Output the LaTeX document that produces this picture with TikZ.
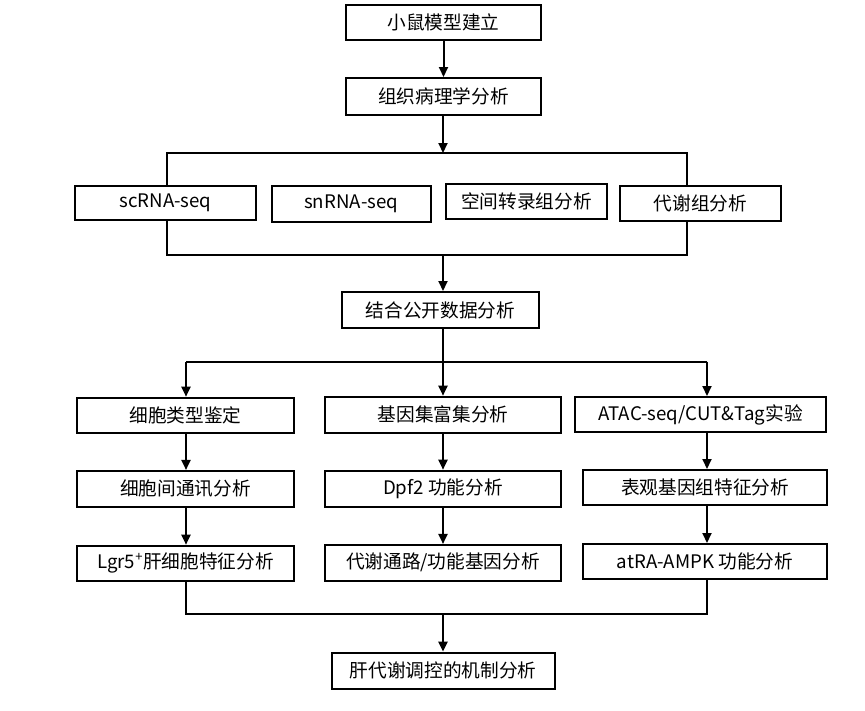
\documentclass[tikz,border=0pt]{standalone}
\usepackage{fontspec}
\setmainfont{Noto Sans CJK SC}
\usetikzlibrary{arrows.meta}
\begin{document}
\begin{tikzpicture}[x=0.75pt,y=-0.75pt,
  box/.style={draw,line width=1.5pt,inner sep=0pt,fill=white,
    font=\fontsize{14}{16}\selectfont},
  ln/.style={line width=1.5pt},
  arr/.style={line width=1.5pt,-{Triangle[length=7.5pt,width=6.75pt]}}]
\useasboundingbox (0,0) rectangle (865,711);
% top
\node[box,minimum width={195*0.75pt},minimum height={35*0.75pt}] (n1) at (443.5,22.5) {小鼠模型建立};
\node[box,minimum width={195*0.75pt},minimum height={37*0.75pt}] (n2) at (443.5,96.5) {组织病理学分析};
% four methods
\node[box,minimum width={181*0.75pt},minimum height={34.5*0.75pt}] (sc) at (165.5,203) {scRNA-seq};
\node[box,minimum width={159*0.75pt},minimum height={36*0.75pt}] (sn) at (351.2,203.7) {snRNA-seq};
\node[box,minimum width={161*0.75pt},minimum height={35*0.75pt}] (sp) at (526.5,201.5) {空间转录组分析};
\node[box,minimum width={161*0.75pt},minimum height={35*0.75pt}] (me) at (700.5,203.2) {代谢组分析};
% integration
\node[box,minimum width={197.6*0.75pt},minimum height={36*0.75pt}] (n3) at (440.5,310) {结合公开数据分析};
% left column
\node[box,minimum width={217*0.75pt},minimum height={35*0.75pt}] (l1) at (185.5,415.2) {细胞类型鉴定};
\node[box,minimum width={217*0.75pt},minimum height={35.7*0.75pt}] (l2) at (185.5,488.8) {细胞间通讯分析};
\node[box,minimum width={217*0.75pt},minimum height={35*0.75pt}] (l3) at (185.5,563.2) {Lgr5\textsuperscript{+}肝细胞特征分析};
% middle column
\node[box,minimum width={236*0.75pt},minimum height={36*0.75pt}] (m1) at (443,414.7) {基因集富集分析};
\node[box,minimum width={236*0.75pt},minimum height={36*0.75pt}] (m2) at (443,488.7) {Dpf2 功能分析};
\node[box,minimum width={236*0.75pt},minimum height={35.7*0.75pt}] (m3) at (443,562.8) {代谢通路/功能基因分析};
% right column
\node[box,minimum width={251*0.75pt},minimum height={35*0.75pt}] (r1) at (700.5,414.5) {ATAC-seq/CUT\&Tag实验};
\node[box,minimum width={244*0.75pt},minimum height={35*0.75pt}] (r2) at (705,487.5) {表观基因组特征分析};
\node[box,minimum width={244*0.75pt},minimum height={35*0.75pt}] (r3) at (705,561.5) {atRA-AMPK 功能分析};
% final
\node[box,minimum width={223.3*0.75pt},minimum height={36.3*0.75pt}] (fin) at (443.3,670.8) {肝代谢调控的机制分析};
% coordinates
\coordinate (tm) at (443,153);
\coordinate (tl) at (167,153);
\coordinate (tr) at (687,153);
\coordinate (bl) at (167,254.5);
\coordinate (br) at (687,254.5);
\coordinate (bm) at (443,254.5);
\coordinate (dl) at (186,361.5);
\coordinate (dm) at (443,361.5);
\coordinate (dr) at (707,361.5);
\coordinate (el) at (186,614);
\coordinate (em) at (443,614);
\coordinate (er) at (707,614);
% connectors
\draw[arr] (n1) -- (n2);
\draw[arr] (n2.south -| tm) -- (tm);
\draw[ln] (sc.north -| tl) -- (tl) -- (tr) -- (me.north -| tr);
\draw[ln] (sc.south -| bl) -- (bl) -- (br) -- (me.south -| br);
\draw[arr] (bm) -- (n3.north -| bm);
\draw[ln] (dl) -- (dr);
\draw[arr] (n3.south -| dm) -- (m1.north -| dm);
\draw[arr] (dl) -- (l1.north -| dl);
\draw[arr] (dr) -- (r1.north -| dr);
\draw[arr] (l1.south -| dl) -- (l2.north -| dl);
\draw[arr] (l2.south -| dl) -- (l3.north -| dl);
\draw[arr] (m1.south -| dm) -- (m2.north -| dm);
\draw[arr] (m2.south -| dm) -- (m3.north -| dm);
\draw[arr] (r1.south -| dr) -- (r2.north -| dr);
\draw[arr] (r2.south -| dr) -- (r3.north -| dr);
\draw[ln] (l3.south -| el) -- (el) -- (er) -- (r3.south -| er);
\draw[arr] (em) -- (fin.north -| em);
\end{tikzpicture}
\end{document}
